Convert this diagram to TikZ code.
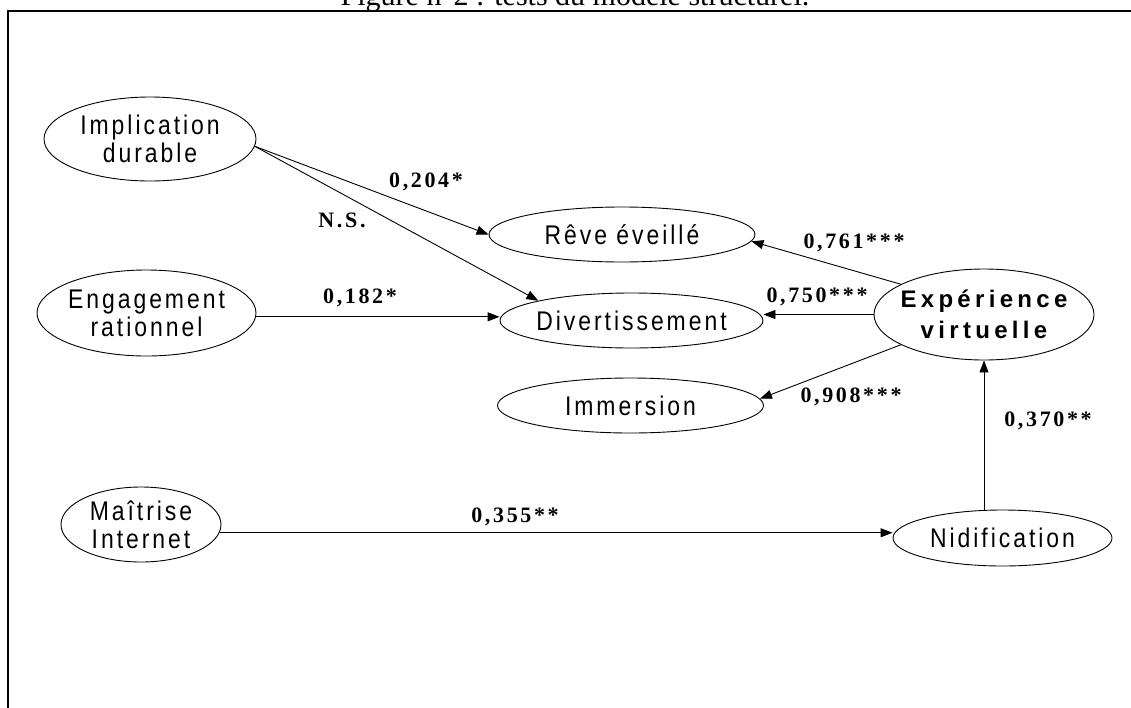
\documentclass[tikz,border=0pt]{standalone}
\usepackage{fontspec}
\setmainfont{Liberation Serif}
\setsansfont{Liberation Sans}
\newfontfamily\ellfont[LetterSpace=11,FakeStretch=0.85]{Liberation Sans}
\newfontfamily\bigellfont[LetterSpace=18]{Liberation Sans}
\newfontfamily\labfont[LetterSpace=12]{Liberation Serif}
\usetikzlibrary{shapes.geometric,arrows.meta}
\begin{document}
\begin{tikzpicture}[x=1pt,y=-1pt,
  ell/.style={ellipse,draw,line width=0.9pt,inner xsep=-10pt,inner ysep=-4pt,align=center,
    font=\ellfont\fontsize{27}{28}\selectfont},
  bigell/.style={ell,font=\bigellfont\bfseries\fontsize{24}{31}\selectfont},
  lab/.style={font=\labfont\bfseries\fontsize{22}{24}\selectfont,inner sep=0pt},
  arr/.style={line width=0.9pt,-{Triangle[length=12pt,width=9pt]}},
  frame/.style={line width=2.5pt}]
\useasboundingbox (0,0) rectangle (1131,707);
% frame and title
\draw[frame] (8,740) -- (8,11) -- (1160,11);
\node[anchor=base,font=\fontsize{30}{32}\selectfont,inner sep=0pt] (title) at (575,5)
  {Figure n°2 : tests du modèle structurel.};
% ellipses
\node[ell,minimum width=212pt,minimum height=84pt] (imp) at (150,139) {Implication\\durable};
\node[ell,minimum width=219pt,minimum height=86pt] (eng) at (146.5,313) {Engagement\\rationnel};
\node[ell,minimum width=266pt,minimum height=55pt] (reve) at (622,234.5) {Rêve éveillé};
\node[ell,minimum width=263pt,minimum height=55pt] (div) at (631.5,320.5) {Divertissement};
\node[ell,minimum width=266pt,minimum height=55pt] (imm) at (630.5,405.5) {Immersion};
\node[bigell,minimum width=220pt,minimum height=91pt] (exp) at (984,314.5) {Expérience\\virtuelle};
\node[ell,minimum width=219pt,minimum height=56pt] (nid) at (1002.5,538) {Nidification};
\node[ell,minimum width=160pt,minimum height=75pt] (mai) at (141,524.5) {Maîtrise\\Internet};
% connectors
\draw[arr] (imp.-4) -- (reve.west);
\draw[arr] (imp.-4) -- (div.168);
\draw[arr] (eng.-2) -- (eng.-2 -| div.west);
\draw[arr] (exp.160) -- (reve.-3);
\draw[arr] (exp.west) -- (exp.west -| div.east);
\draw[arr] (exp.200) -- (imm.3);
\draw[arr] (exp.south |- nid.north) -- (exp.south);
\draw[arr] (mai.-6) -- (mai.-6 -| nid.west);
% labels
\node[lab] (l1) at (426,182) {0,204*};
\node[lab] (l2) at (342,220) {N.S.};
\node[lab] (l3) at (360,298) {0,182*};
\node[lab] (l4) at (854,243) {0,761***};
\node[lab] (l5) at (817,297) {0,750***};
\node[lab] (l6) at (851,397) {0,908***};
\node[lab] (l7) at (1048,421) {0,370**};
\node[lab] (l8) at (515,517) {0,355**};
\end{tikzpicture}
\end{document}
